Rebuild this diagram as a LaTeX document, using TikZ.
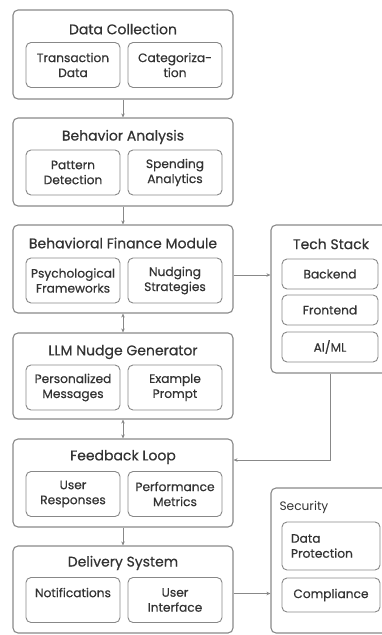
\documentclass[tikz,border=0pt]{standalone}
\usepackage{fontspec}
\setmainfont{Poppins}
\newfontfamily\medfont{Poppins}[FakeBold=0.5]
\usetikzlibrary{arrows.meta,positioning}

\definecolor{edge}{HTML}{888888}
\definecolor{ink}{HTML}{333333}

\tikzset{
    module/.style={draw=edge, line width=1.1pt, rounded corners=5pt, minimum width=220pt},
    part/.style={draw=edge, line width=0.9pt, rounded corners=5pt, minimum width=94pt,
        minimum height=45pt, align=center, text=ink, inner sep=1pt,
        font=\medfont\fontsize{12.2}{15}\selectfont},
    heading/.style={text=ink, font=\medfont\fontsize{14}{16}\selectfont},
    link/.style={draw=edge, line width=0.8pt, -{Stealth[length=4pt,width=3.5pt]}},
    both/.style={link, {Stealth[length=4pt,width=3.5pt]}-{Stealth[length=4pt,width=3.5pt]}},
}

\begin{document}
\begin{tikzpicture}[x=1pt,y=-1pt] % pixel grid, y runs down
    \useasboundingbox (0,0) rectangle (381,635);

    % main column
    \node[module, minimum height=89pt] (dc) at (123,54.5) {};
    \node[heading] (dct) at (123,29) {Data Collection};
    \node[part] (dc1) at (73,65) {Transaction\\Data};
    \node[part] (dc2) at (175,65) {Categoriza-\\tion};

    \node[module, minimum height=88pt] (ba) at (123,162) {};
    \node[heading] (bat) at (123,137) {Behavior Analysis};
    \node[part] (ba1) at (73,172.5) {Pattern\\Detection};
    \node[part] (ba2) at (175,172.5) {Spending\\Analytics};

    \node[module, minimum height=88pt] (bf) at (123,269) {};
    \node[heading] (bft) at (123,243) {Behavioral Finance Module};
    \node[part] (bf1) at (73,280.5) {Psychological\\Frameworks};
    \node[part] (bf2) at (175,280.5) {Nudging\\Strategies};

    \node[module, minimum height=86pt] (llm) at (123,376) {};
    \node[heading] (llmt) at (123,352) {LLM Nudge Generator};
    \node[part] (llm1) at (73,387.5) {Personalized\\Messages};
    \node[part] (llm2) at (175,387.5) {Example\\Prompt};

    \node[module, minimum height=88pt] (fb) at (123,483) {};
    \node[heading] (fbt) at (123,457) {Feedback Loop};
    \node[part] (fb1) at (73,494) {User\\Responses};
    \node[part] (fb2) at (175,494) {Performance\\Metrics};

    \node[module, minimum height=87pt] (ds) at (123,589.5) {};
    \node[heading] (dst) at (123,563) {Delivery System};
    \node[part] (ds1) at (73,600) {Notifications\\\mbox{}};
    \node[part] (ds2) at (175,600) {User\\Interface};

    % side boxes
    \node[module, minimum width=118pt, minimum height=148pt] (tech) at (330,299) {};
    \node[heading] (techt) at (331,244) {Tech Stack};
    \node[part, minimum width=96pt, minimum height=30pt] (be) at (330,274) {Backend};
    \node[part, minimum width=96pt, minimum height=30pt] (fe) at (330,310) {Frontend};
    \node[part, minimum width=96pt, minimum height=30pt] (ai) at (330,347) {AI/ML};

    \node[module, minimum width=118pt, minimum height=145pt] (sec) at (330,560.5) {};
    \node[text=ink, font=\fontsize{12.2}{15}\selectfont, anchor=west] (sect) at (276,507) {Security};
    \node[part, align=left, text width=80pt, inner sep=9pt, minimum width=98pt,
        minimum height=48pt] (dp) at (331,546) {Data\\Protection};
    \node[part, minimum width=98pt, minimum height=34pt] (co) at (331,595) {Compliance};

    % connectors
    \draw[link] (dc) -- (ba);
    \draw[link] (ba) -- (bf);
    \draw[both] (bf) -- (llm);
    \draw[both] (llm) -- (fb);
    \draw[link] (fb) -- (ds);
    \draw[link] ([yshift=-6pt]bf.east) -- ([yshift=-6pt]bf.east -| tech.west);
    \draw[link] (tech.south) |- ([yshift=23pt]fb.east);
    \draw[link] ([yshift=-4pt]ds.east) -- ([yshift=-4pt]ds.east -| sec.west);
\end{tikzpicture}
\end{document}
